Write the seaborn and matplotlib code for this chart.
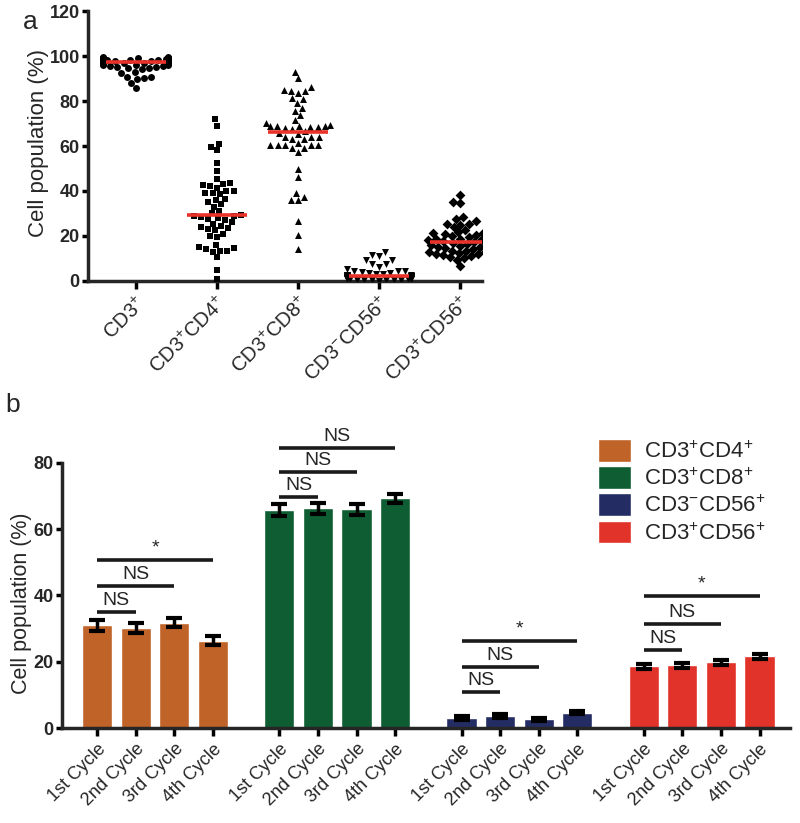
import numpy as np
import pandas as pd
import matplotlib
matplotlib.use("Agg")
import matplotlib.pyplot as plt
import seaborn as sns

# ----- panel a: individual patients -----
cats_a = ["CD3+", "CD3+CD4+", "CD3+CD8+", "CD3-CD56+", "CD3+CD56+"]
labels_a = [r"CD3$^{+}$", r"CD3$^{+}$CD4$^{+}$", r"CD3$^{+}$CD8$^{+}$",
            r"CD3$^{-}$CD56$^{+}$", r"CD3$^{+}$CD56$^{+}$"]
markers_a = ["o", "s", "^", "v", "D"]

cd3 = [99.5, 99.4, 99.3, 99.2, 99.0, 99.0, 98.9, 98.8, 98.7, 98.6, 98.5, 98.4,
       98.3, 98.2, 98.1, 98.0, 97.9, 97.8, 97.7, 97.6, 97.5, 97.5, 97.4, 97.3,
       97.2, 97.1, 97.0, 96.9, 96.8, 96.6, 96.5, 96.3, 96.2, 96.0, 95.8, 95.6,
       95.5, 95.3, 95.0, 94.8, 94.5, 94.2, 93.0, 92.3, 90.8, 90.5, 90.3, 90.0,
       88.0, 85.7]
cd4 = [72, 69, 61, 59.5, 58, 52.5, 49, 45.5, 43.5, 43, 42.5, 42, 41.5, 40, 40,
       39, 39, 38.5, 36.5, 36, 35, 34, 33, 31, 30, 29.5, 29, 29, 28.5, 28, 27.5,
       27, 26, 25.5, 24.5, 24, 23.5, 23, 22.5, 21, 20, 19.5, 16, 15, 14.5, 14,
       13.5, 13.5, 13, 10.5, 5, 1]
cd8 = [93.0, 90.1, 86.4, 85.0, 84.6, 84.6, 83.5, 81.2, 81.0, 79.0, 76.8, 75.7,
       73.8, 71.6, 70.1, 69.5, 68.9, 68.9, 68.9, 68.9, 68.5, 68.5, 67.9, 67.5,
       66.5, 65.9, 65.5, 63.9, 63.9, 63.9, 63.0, 63.0, 61.5, 60.3, 60.3, 60.3,
       60.3, 60.3, 59.0, 59.0, 57.5, 49.8, 46.4, 39.0, 37.5, 36.0, 36.0, 26.7,
       20.4, 14.1]
nk = [12.7, 11.6, 11.0, 9.3, 9.3, 7.4, 7.4, 6.4, 5.3, 4.6, 4.6, 4.4, 4.0, 3.6,
      3.4, 3.2, 3.0, 2.8, 2.6, 2.5, 2.4, 2.2, 2.1, 2.0, 2.0, 1.9, 1.8, 1.7, 1.6,
      1.5, 1.4, 1.3, 1.2, 1.1, 1.0, 1.0, 0.9, 0.8, 0.7, 0.6, 0.5, 0.5, 0.4, 0.3,
      0.3, 0.2]
nkt = [38.2, 35.0, 34.5, 28.6, 27.4, 26.7, 25.3, 25.3, 24.9, 24.1, 22.7, 22.0,
       21.8, 21.5, 21.2, 21.0, 20.5, 19.8, 19.5, 19.2, 18.8, 18.5, 18.2, 18.0,
       17.6, 17.3, 17.0, 16.8, 16.5, 16.2, 16.0, 15.6, 15.3, 15.0, 14.6, 14.2,
       13.8, 13.5, 13.2, 13.0, 12.8, 12.5, 12.0, 11.8, 11.5, 11.0, 10.5, 10.2,
       9.5, 6.8]
values_a = [cd3, cd4, cd8, nk, nkt]

# ----- panel b: mean +/- SEM per cycle -----
cycles = ["1st Cycle", "2nd Cycle", "3rd Cycle", "4th Cycle"]
subsets_b = [r"CD3$^{+}$CD4$^{+}$", r"CD3$^{+}$CD8$^{+}$",
             r"CD3$^{-}$CD56$^{+}$", r"CD3$^{+}$CD56$^{+}$"]
colors_b = ["#bf6329", "#0f5e33", "#232d63", "#e2332a"]
mean_cd4 = [31.0, 30.2, 31.8, 26.3]
mean_cd8 = [65.8, 66.3, 66.0, 69.3]
mean_nk = [3.0, 3.6, 2.6, 4.6]
mean_nkt = [18.6, 18.9, 19.8, 21.6]
sem_cd4 = [1.6, 1.5, 1.4, 1.4]
sem_cd8 = [1.9, 1.7, 1.6, 1.4]
sem_nk = [0.5, 0.5, 0.4, 0.5]
sem_nkt = [0.7, 0.7, 0.8, 0.8]
means_b = [mean_cd4, mean_cd8, mean_nk, mean_nkt]
sems_b = [sem_cd4, sem_cd8, sem_nk, sem_nkt]

# significance brackets: group, from bar, to bar, height, text
sig_group = [0, 0, 0, 1, 1, 1, 2, 2, 2, 3, 3, 3]
sig_from = [0] * 12
sig_to = [1, 2, 3] * 4
sig_y = [35.0, 42.9, 50.7, 69.8, 77.3, 84.6, 10.9, 18.4, 26.3, 23.4, 31.4, 39.9]
sig_txt = ["NS", "NS", "*", "NS", "NS", "NS", "NS", "NS", "*", "NS", "NS", "*"]

group_step = 4.72

sns.set_style("ticks")
plt.rcParams["font.family"] = ["Liberation Sans", "DejaVu Sans"]
plt.rcParams["mathtext.fontset"] = "custom"
plt.rcParams["mathtext.rm"] = "Liberation Sans"
plt.rcParams["mathtext.it"] = "Liberation Sans:italic"
plt.rcParams["mathtext.bf"] = "Liberation Sans:bold"

fig = plt.figure(figsize=(8, 8.23), dpi=100)
ax1 = fig.add_axes([0.11, 0.6586, 0.4925, 0.328])
ax2 = fig.add_axes([0.0775, 0.1154, 0.91, 0.3706])

# panel a
for i, (cat, vals, m) in enumerate(zip(cats_a, values_a, markers_a)):
    df = pd.DataFrame({"cat": cat, "val": vals})
    sns.swarmplot(data=df, x="cat", y="val", order=cats_a, marker=m,
                  color="black", size=5, linewidth=0, ax=ax1)
    ax1.hlines(np.median(vals), i - 0.37, i + 0.37, color="#e8322a", lw=2.6, zorder=5)

ax1.set_xlim(-0.59, 4.27)
ax1.set_ylim(0, 120)
ax1.set_yticks(range(0, 121, 20))
ax1.set_xticks(range(5))
ax1.set_xticklabels(labels_a, rotation=45, ha="right", rotation_mode="anchor", fontsize=14.5)
ax1.set_xlabel("")
ax1.set_ylabel("Cell population (%)", fontsize=16)
ax1.yaxis.set_label_coords(-0.1, 0.51)
for lab in ax1.get_yticklabels():
    lab.set_fontweight("bold")
    lab.set_fontsize(13)

# panel b
rows = []
for g, sub in enumerate(subsets_b):
    for i, cyc in enumerate(cycles):
        rows.append({"subset": sub, "cycle": cyc, "pos": g * group_step + i,
                     "mean": means_b[g][i], "sem": sems_b[g][i]})
df_b = pd.DataFrame(rows)

sns.barplot(data=df_b, x="pos", y="mean", hue="subset", hue_order=subsets_b,
            palette=colors_b, native_scale=True, dodge=False, width=0.78,
            errorbar=None, saturation=1, ax=ax2)
ax2.errorbar(df_b["pos"], df_b["mean"], yerr=df_b["sem"], fmt="none",
             ecolor="black", elinewidth=2.5, capsize=6, capthick=3, zorder=4)

for g, a, b, y, t in zip(sig_group, sig_from, sig_to, sig_y, sig_txt):
    x1 = g * group_step + a
    x2 = g * group_step + b
    ax2.plot([x1, x2], [y, y], color="#1a1a1a", lw=2.6, solid_capstyle="butt")
    ax2.text((x1 + x2) / 2, y + 0.9, t, ha="center", va="bottom", fontsize=14)

ax2.set_xlim(-0.91, 17.95)
ax2.set_ylim(0, 92)
ax2.set_yticks(range(0, 81, 20))
ax2.set_xticks(df_b["pos"])
ax2.set_xticklabels(cycles * 4, rotation=45, ha="right", rotation_mode="anchor", fontsize=13)
ax2.spines["left"].set_bounds(0, 80)
ax2.set_xlabel("")
ax2.set_ylabel("Cell population (%)", fontsize=15.5)
ax2.yaxis.set_label_coords(-0.041, 0.41)
for lab in ax2.get_yticklabels():
    lab.set_fontweight("bold")
    lab.set_fontsize(13)

sns.move_legend(ax2, "upper left", bbox_to_anchor=(0.736, 0.9475), frameon=False,
                title=None, fontsize=16, handlelength=1.5, handleheight=1.2,
                labelspacing=0.15, handletextpad=0.6, borderpad=0, borderaxespad=0)

for ax in (ax1, ax2):
    sns.despine(ax=ax)
    for s in ("left", "bottom"):
        ax.spines[s].set_linewidth(2.5)
    ax.tick_params(axis="y", width=2.5, length=4.5, pad=1.5, color="black")
    ax.tick_params(axis="x", width=2.5, length=6, pad=3, color="black")

fig.text(0.0375, 0.973, "a", fontsize=19, va="center", ha="center")
fig.text(0.016, 0.508, "b", fontsize=19, va="center", ha="center")

fig.savefig("out.png", dpi=100)
